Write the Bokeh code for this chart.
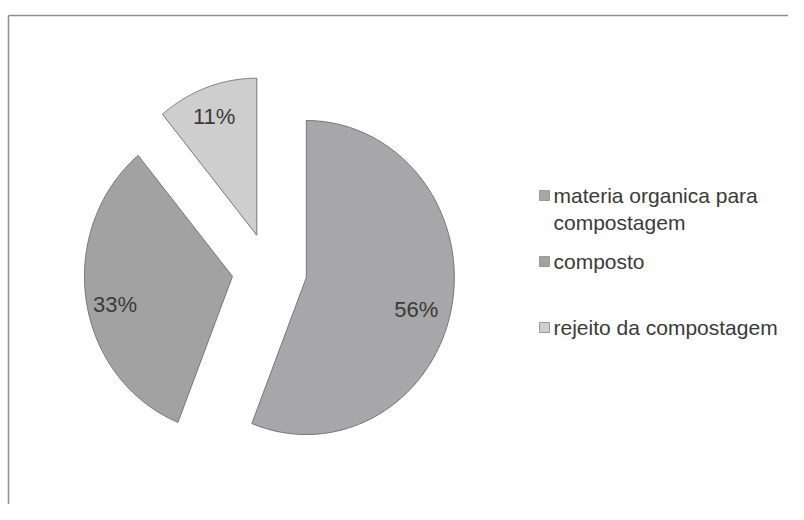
import textwrap
import numpy as np
from bokeh.plotting import figure
from bokeh.models import Range1d
from bokeh.embed import file_html
from bokeh.resources import INLINE
from bokeh.core.properties import value

# ---- data ----
categories = ["materia organica para compostagem", "composto", "rejeito da compostagem"]
percentages = [56, 33, 11]
slice_colors = ["#a7a7a9", "#a2a2a2", "#cecece"]

# ---- layout ----
W, H = 788, 504
FONT = "Liberation Sans"
TEXT_COLOR = "#3a3a3a"

p = figure(width=W, height=H, output_backend="svg", toolbar_location=None,
           x_range=Range1d(0, W), y_range=Range1d(0, H), min_border=0)
p.axis.visible = False
p.grid.visible = False
p.outline_line_color = None
p.background_fill_color = "white"
p.border_fill_color = "white"

# chart frame (top and left edges visible in the reference)
p.segment(x0=[8, 8], y0=[489, 0], x1=[W, 8], y1=[489, 489],
          line_color="#8e8e8e", line_width=1.5)

# ---- exploded pie (clockwise from 12 o'clock) ----
cx, cy, rx, ry, explode = 269, 234, 148, 157, 37.5
fr = np.array(percentages, dtype=float) / sum(percentages)
ends = np.cumsum(fr) * 2 * np.pi
starts = ends - fr * 2 * np.pi
mids = (starts + ends) / 2

xs, ys, lx, ly = [], [], [], []
for s, e, m in zip(starts, ends, mids):
    ox = cx + explode * np.sin(m)
    oy = cy + explode * np.cos(m)
    t = np.linspace(s, e, 120)
    xs.append(np.concatenate([[ox], ox + rx * np.sin(t)]))
    ys.append(np.concatenate([[oy], oy + ry * np.cos(t)]))
    lx.append(ox + 0.78 * rx * np.sin(m) - 3.5)
    ly.append(oy + 0.85 * ry * np.cos(m) - 7)

p.patches(xs, ys, fill_color=slice_colors, line_color="#777777", line_width=1)

labels = [f"{v}%" for v in percentages]
p.text(x=lx, y=ly, text=labels, text_align="center", text_baseline="middle",
       text_font=value(FONT), text_font_size="22px", text_color=TEXT_COLOR)

# ---- legend ----
leg_x, leg_y0, item_step, line_step = 544, 309, 66, 27
mk_x, mk_y, tx, ty, tt = [], [], [], [], []
for i, cat in enumerate(categories):
    y = leg_y0 - i * item_step
    mk_x.append(leg_x)
    mk_y.append(y)
    for j, line in enumerate(textwrap.wrap(cat, width=22)):
        tx.append(leg_x + 9)
        ty.append(y - j * line_step)
        tt.append(line)

p.scatter(x=mk_x, y=mk_y, marker="square", size=10, fill_color=slice_colors,
          line_color="#8a8a8a", line_width=0.8)
p.text(x=tx, y=ty, text=tt, text_align="left", text_baseline="middle",
       text_font=value(FONT), text_font_size="21px", text_color=TEXT_COLOR)

open("out.html", "w").write(file_html(p, INLINE))
